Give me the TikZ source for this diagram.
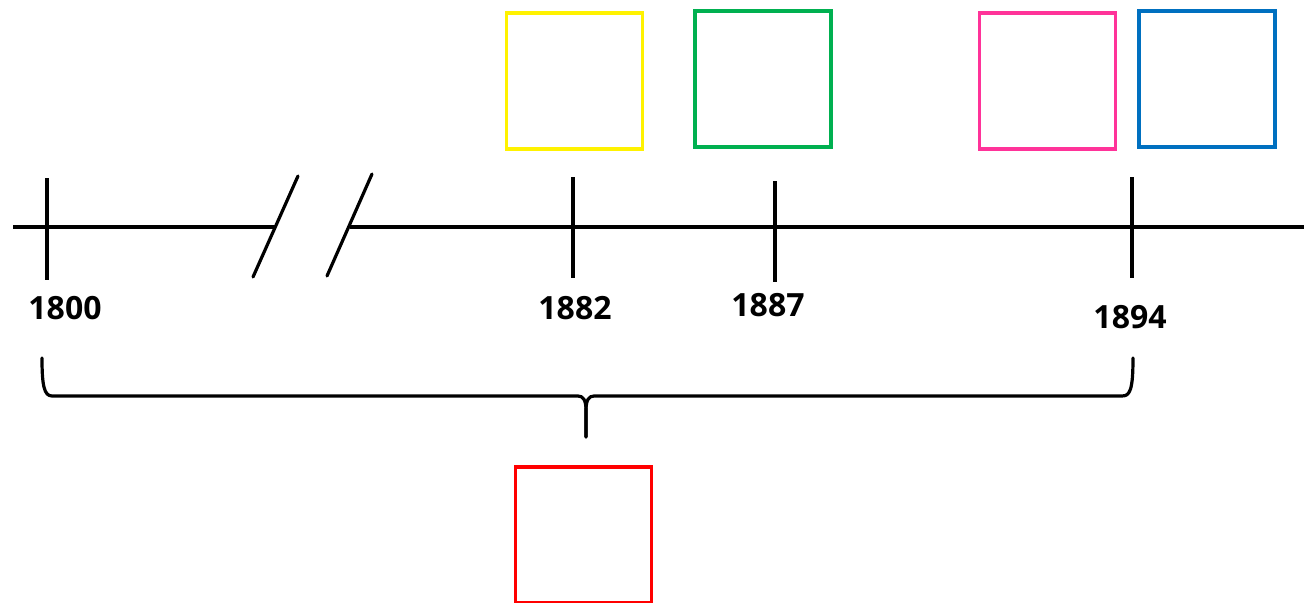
\documentclass[tikz,border=0pt]{standalone}
\usepackage{fontspec}
\setmainfont{Open Sans}
\begin{document}
\begin{tikzpicture}[x=0.75pt,y=-0.75pt,
  axis/.style={line width=2.6pt, black},
  tick/.style={line width=2.4pt, black},
  box/.style={draw, line width=2.3pt, minimum width=102pt, minimum height=102pt, inner sep=0pt},
  yearlab/.style={font=\fontsize{24}{26}\selectfont\bfseries, inner sep=0pt, anchor=center},
  brace/.style={line width=2.4pt, black, line cap=round, line join=round}]
\useasboundingbox (0,0) rectangle (1304,603);
\definecolor{cyel}{RGB}{255,242,0}
\definecolor{cgrn}{RGB}{0,176,80}
\definecolor{cpnk}{RGB}{255,51,153}
\definecolor{cblu}{RGB}{0,112,192}
\definecolor{cred}{RGB}{255,0,0}
% axis
\coordinate (a0) at (13,227);
\coordinate (a1) at (275,227);
\coordinate (a2) at (350,227);
\coordinate (a3) at (1304,227);
\draw[axis] (a0) -- (a1);
\draw[axis] (a2) -- (a3);
% break marks
\coordinate (s1a) at (253,277); \coordinate (s1b) at (298,176);
\coordinate (s2a) at (327,276); \coordinate (s2b) at (372,174);
\draw[tick, line cap=round] (s1a) -- (s1b);
\draw[tick, line cap=round] (s2a) -- (s2b);
% ticks
\coordinate (t1a) at (47,178); \coordinate (t1b) at (47,280);
\coordinate (t2a) at (573,177); \coordinate (t2b) at (573,278);
\coordinate (t3a) at (775,181); \coordinate (t3b) at (775,282);
\coordinate (t4a) at (1132,177); \coordinate (t4b) at (1132,278);
\draw[tick] (t1a) -- (t1b);
\draw[tick] (t2a) -- (t2b);
\draw[tick] (t3a) -- (t3b);
\draw[tick] (t4a) -- (t4b);
% labels
\node[yearlab] (l1800) at (65,308) {1800};
\node[yearlab] (l1882) at (575,308) {1882};
\node[yearlab] (l1887) at (768,305) {1887};
\node[yearlab] (l1894) at (1130,317) {1894};
% boxes
\node[box, draw=cyel] (byel) at (574.5,81) {};
\node[box, draw=cgrn] (bgrn) at (763,79) {};
\node[box, draw=cpnk] (bpnk) at (1047.5,81) {};
\node[box, draw=cblu] (bblu) at (1207,79) {};
\node[box, draw=cred] (bred) at (583.5,535) {};
% brace
\coordinate (b0) at (42,358);
\coordinate (b1) at (1133,358);
\coordinate (bt) at (586,437);
\draw[brace] (b0) .. controls (42,385) and (44,396) .. (52,396)
  -- (578,396) .. controls (583,396) and (586,400) .. (586,410) -- (bt);
\draw[brace] (bt) -- (586,410) .. controls (586,400) and (589,396) .. (594,396)
  -- (1122,396) .. controls (1130,396) and (1133,390) .. (b1);
\end{tikzpicture}
\end{document}
